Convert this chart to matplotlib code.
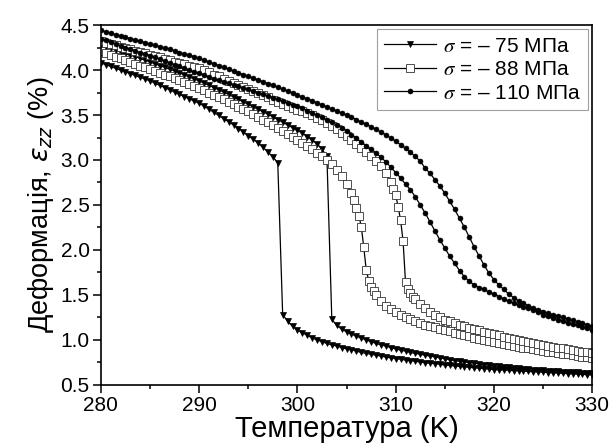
import matplotlib
matplotlib.use("Agg")
import matplotlib.pyplot as plt
from matplotlib.ticker import MultipleLocator

plt.rcParams["font.family"] = ["Liberation Sans", "DejaVu Sans"]
plt.rcParams["mathtext.fontset"] = "dejavusans"

# temperature grid (K), step 0.5
temp = [280.0, 280.5, 281.0, 281.5, 282.0, 282.5, 283.0, 283.5, 284.0, 284.5,
        285.0, 285.5, 286.0, 286.5, 287.0, 287.5, 288.0, 288.5, 289.0, 289.5,
        290.0, 290.5, 291.0, 291.5, 292.0, 292.5, 293.0, 293.5, 294.0, 294.5,
        295.0, 295.5, 296.0, 296.5, 297.0, 297.5, 298.0, 298.5, 299.0, 299.5,
        300.0, 300.5, 301.0, 301.5, 302.0, 302.5, 303.0, 303.5, 304.0, 304.5,
        305.0, 305.5, 306.0, 306.5, 307.0, 307.5, 308.0, 308.5, 309.0, 309.5,
        310.0, 310.5, 311.0, 311.5, 312.0, 312.5, 313.0, 313.5, 314.0, 314.5,
        315.0, 315.5, 316.0, 316.5, 317.0, 317.5, 318.0, 318.5, 319.0, 319.5,
        320.0, 320.5, 321.0, 321.5, 322.0, 322.5, 323.0, 323.5, 324.0, 324.5,
        325.0, 325.5, 326.0, 326.5, 327.0, 327.5, 328.0, 328.5, 329.0, 329.5,
        330.0]

# sigma = -75 MPa, jump at 298 K
eps_75_a = [4.08, 4.06, 4.04, 4.02, 4.00, 3.98, 3.96, 3.94, 3.92, 3.90,
            3.88, 3.855, 3.83, 3.805, 3.78, 3.755, 3.73, 3.705, 3.68, 3.655,
            3.63, 3.60, 3.565, 3.53, 3.495, 3.46, 3.425, 3.39, 3.35, 3.31,
            3.27, 3.23, 3.19, 3.14, 3.09, 3.035, 2.97, 1.28, 1.21, 1.15,
            1.11, 1.08, 1.05, 1.025, 1.00, 0.98, 0.96, 0.945, 0.93, 0.915,
            0.90, 0.89, 0.875, 0.86, 0.85, 0.84, 0.83, 0.82, 0.81, 0.80,
            0.79, 0.785, 0.775, 0.77, 0.76, 0.755, 0.745, 0.74, 0.735, 0.73,
            0.72, 0.715, 0.71, 0.705, 0.70, 0.695, 0.69, 0.685, 0.68, 0.675,
            0.67, 0.667, 0.664, 0.661, 0.658, 0.655, 0.652, 0.649, 0.646, 0.643,
            0.64, 0.637, 0.634, 0.631, 0.628, 0.625, 0.622, 0.619, 0.616, 0.613,
            0.61]

# sigma = -75 MPa, jump at 303 K
eps_75_b = [4.28, 4.26, 4.24, 4.22, 4.20, 4.18, 4.165, 4.15, 4.13, 4.11,
            4.09, 4.07, 4.05, 4.03, 4.01, 3.99, 3.97, 3.945, 3.925, 3.90,
            3.88, 3.855, 3.83, 3.805, 3.78, 3.755, 3.73, 3.70, 3.675, 3.645,
            3.62, 3.59, 3.565, 3.535, 3.51, 3.48, 3.45, 3.42, 3.39, 3.36,
            3.33, 3.30, 3.26, 3.22, 3.18, 3.12, 3.04, 1.23, 1.16, 1.12,
            1.09, 1.065, 1.04, 1.02, 1.00, 0.98, 0.96, 0.945, 0.93, 0.915,
            0.90, 0.885, 0.875, 0.86, 0.85, 0.84, 0.83, 0.82, 0.81, 0.80,
            0.79, 0.78, 0.77, 0.762, 0.755, 0.747, 0.74, 0.732, 0.725, 0.717,
            0.71, 0.705, 0.70, 0.695, 0.69, 0.685, 0.68, 0.675, 0.67, 0.665,
            0.66, 0.657, 0.654, 0.651, 0.648, 0.645, 0.642, 0.639, 0.636, 0.633,
            0.63]

# sigma = -88 MPa, transition near 306.5 K
eps_88_a = [4.21, 4.19, 4.17, 4.15, 4.13, 4.11, 4.09, 4.07, 4.05, 4.03,
            4.01, 3.99, 3.97, 3.95, 3.93, 3.91, 3.89, 3.865, 3.845, 3.82,
            3.80, 3.775, 3.75, 3.725, 3.70, 3.675, 3.645, 3.62, 3.59, 3.565,
            3.54, 3.51, 3.48, 3.45, 3.42, 3.39, 3.355, 3.32, 3.29, 3.255,
            3.22, 3.19, 3.155, 3.12, 3.08, 3.04, 3.00, 2.95, 2.89, 2.82,
            2.73, 2.63, 2.47, 2.26, 1.78, 1.59, 1.50, 1.43, 1.38, 1.345,
            1.31, 1.28, 1.255, 1.23, 1.21, 1.19, 1.17, 1.155, 1.14, 1.125,
            1.11, 1.095, 1.08, 1.065, 1.05, 1.04, 1.025, 1.01, 1.00, 0.99,
            0.975, 0.965, 0.955, 0.945, 0.935, 0.925, 0.915, 0.905, 0.895, 0.885,
            0.875, 0.87, 0.86, 0.855, 0.845, 0.84, 0.83, 0.825, 0.815, 0.81,
            0.80]
# extra points measured inside the steep part
temp_88_a_mid = [305.75, 306.25, 306.75, 307.25, 307.75]
eps_88_a_mid = [2.56, 2.38, 2.03, 1.66, 1.54]

# sigma = -88 MPa, transition near 311 K
eps_88_b = [4.32, 4.305, 4.29, 4.275, 4.26, 4.245, 4.23, 4.215, 4.20, 4.185,
            4.17, 4.155, 4.14, 4.125, 4.11, 4.095, 4.08, 4.065, 4.05, 4.035,
            4.02, 4.00, 3.975, 3.95, 3.93, 3.905, 3.88, 3.86, 3.835, 3.81,
            3.79, 3.765, 3.74, 3.72, 3.695, 3.67, 3.65, 3.625, 3.60, 3.58,
            3.56, 3.54, 3.52, 3.495, 3.47, 3.44, 3.41, 3.375, 3.34, 3.305,
            3.27, 3.225, 3.18, 3.135, 3.09, 3.04, 2.99, 2.93, 2.85, 2.75,
            2.61, 2.33, 1.64, 1.52, 1.45, 1.40, 1.35, 1.31, 1.28, 1.25,
            1.225, 1.205, 1.185, 1.165, 1.15, 1.135, 1.12, 1.105, 1.09, 1.075,
            1.06, 1.05, 1.035, 1.025, 1.01, 1.00, 0.99, 0.975, 0.965, 0.955,
            0.945, 0.935, 0.925, 0.915, 0.905, 0.895, 0.885, 0.875, 0.865, 0.86,
            0.85]
temp_88_b_mid = [309.75, 310.25, 310.75, 311.25, 311.75]
eps_88_b_mid = [2.68, 2.48, 2.10, 1.57, 1.48]

# sigma = -110 MPa, transition near 317 K
eps_110_a = [4.44, 4.425, 4.41, 4.395, 4.38, 4.365, 4.35, 4.335, 4.32, 4.305,
             4.29, 4.275, 4.26, 4.245, 4.23, 4.215, 4.195, 4.18, 4.165, 4.15,
             4.13, 4.11, 4.09, 4.07, 4.05, 4.03, 4.01, 3.99, 3.97, 3.95,
             3.93, 3.91, 3.89, 3.87, 3.85, 3.83, 3.81, 3.79, 3.765, 3.745,
             3.72, 3.70, 3.68, 3.66, 3.635, 3.615, 3.59, 3.57, 3.545, 3.52,
             3.50, 3.475, 3.45, 3.42, 3.395, 3.37, 3.34, 3.31, 3.28, 3.245,
             3.21, 3.17, 3.13, 3.085, 3.04, 2.985, 2.91, 2.85, 2.78, 2.71,
             2.63, 2.54, 2.45, 2.35, 2.25, 2.14, 2.03, 1.93, 1.83, 1.74,
             1.67, 1.61, 1.56, 1.51, 1.47, 1.435, 1.405, 1.38, 1.355, 1.335,
             1.315, 1.295, 1.28, 1.265, 1.25, 1.235, 1.22, 1.20, 1.185, 1.165,
             1.15]

# sigma = -110 MPa, transition near 313 K
eps_110_b = [4.35, 4.33, 4.31, 4.29, 4.27, 4.25, 4.235, 4.215, 4.195, 4.18,
             4.16, 4.14, 4.12, 4.10, 4.08, 4.06, 4.04, 4.02, 4.00, 3.98,
             3.965, 3.945, 3.925, 3.905, 3.89, 3.87, 3.855, 3.835, 3.82, 3.80,
             3.785, 3.765, 3.75, 3.73, 3.71, 3.69, 3.675, 3.655, 3.635, 3.615,
             3.595, 3.575, 3.55, 3.525, 3.50, 3.475, 3.45, 3.42, 3.39, 3.36,
             3.32, 3.28, 3.24, 3.20, 3.16, 3.12, 3.08, 3.03, 2.98, 2.92,
             2.86, 2.80, 2.73, 2.67, 2.59, 2.50, 2.41, 2.31, 2.21, 2.11,
             2.02, 1.93, 1.85, 1.77, 1.70, 1.65, 1.61, 1.58, 1.56, 1.53,
             1.51, 1.48, 1.455, 1.43, 1.41, 1.39, 1.37, 1.35, 1.33, 1.31,
             1.28, 1.26, 1.245, 1.225, 1.21, 1.19, 1.175, 1.16, 1.145, 1.127,
             1.11]

labels = [r"$\sigma$ = – 75 МПа", r"$\sigma$ = – 88 МПа", r"$\sigma$ = – 110 МПа"]


def merge(t1, e1, t2, e2):
    # put the extra mid points into the main series in temperature order
    pts = sorted(zip(list(t1) + list(t2), list(e1) + list(e2)))
    return [p[0] for p in pts], [p[1] for p in pts]


t88a, e88a = merge(temp, eps_88_a, temp_88_a_mid, eps_88_a_mid)
t88b, e88b = merge(temp, eps_88_b, temp_88_b_mid, eps_88_b_mid)

fig = plt.figure(figsize=(6.15, 4.48), dpi=100)
ax = fig.add_axes([0.164, 0.141, 0.799, 0.803])

style_75 = dict(color="black", lw=0.9, marker="v", ms=4.6, mfc="black", mec="black", mew=0.5)
style_88 = dict(color="black", lw=0.9, marker="s", ms=5.2, mfc="white", mec="#333333", mew=0.6)
style_110 = dict(color="black", lw=0.9, marker="o", ms=3.6, mfc="black", mec="black", mew=0.4)

ax.plot(temp, eps_75_a, label=labels[0], **style_75)
ax.plot(temp, eps_75_b, **style_75)
ax.plot(t88a, e88a, label=labels[1], **style_88)
ax.plot(t88b, e88b, **style_88)
ax.plot(temp, eps_110_a, label=labels[2], **style_110)
ax.plot(temp, eps_110_b, **style_110)

ax.set_xlim(280, 330)
ax.set_ylim(0.5, 4.5)
ax.xaxis.set_major_locator(MultipleLocator(10))
ax.xaxis.set_minor_locator(MultipleLocator(5))
ax.yaxis.set_major_locator(MultipleLocator(0.5))
ax.yaxis.set_minor_locator(MultipleLocator(0.25))
ax.yaxis.set_major_formatter(plt.FormatStrFormatter("%.1f"))
ax.tick_params(which="major", direction="out", length=6, width=1.1, labelsize=15, pad=2)
ax.tick_params(which="minor", direction="out", length=3, width=1.1)
for s in ax.spines.values():
    s.set_linewidth(1.2)

ax.set_xlabel("Температура (K)", fontsize=21, labelpad=0)
ax.set_ylabel(r"Деформація, $\varepsilon_{zz}$ (%)", fontsize=19.5, labelpad=3)

# legend box in the upper right corner, square grey frame
leg = ax.legend(loc="upper right", fontsize=15, frameon=True, fancybox=False,
                edgecolor="#888888", handlelength=2.5, borderpad=0.35,
                labelspacing=0.22, handletextpad=0.3, borderaxespad=0.2)
leg.get_frame().set_linewidth(0.8)
for t in leg.get_texts():
    t.set_math_fontfamily("stix")

plt.savefig("out.png", dpi=100)
